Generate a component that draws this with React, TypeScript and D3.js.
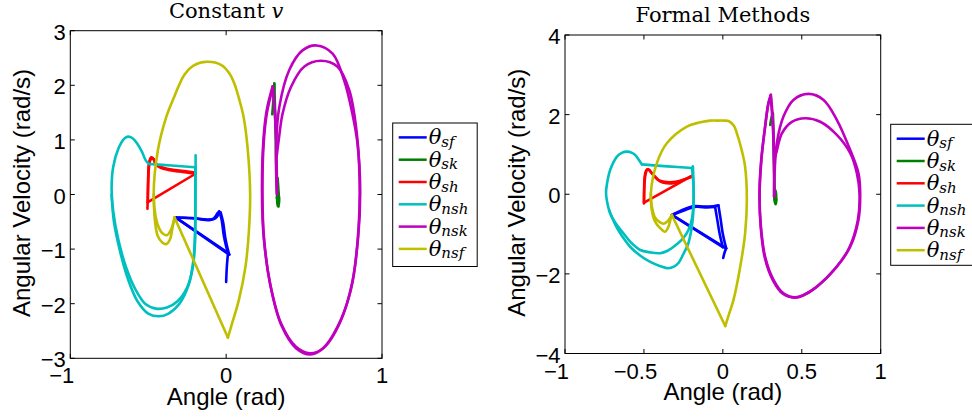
import React from "react"
import * as d3 from "d3"

type Pt = [number, number]
type Series = Pt[][] // each series is drawn as smooth pieces joined at sharp corners

const LEGEND_LABELS = ["sf", "sk", "sh", "nsh", "nsk", "nsf"]
const COLORS = ["#0000ff", "#008000", "#ff0000", "#00bfbf", "#bf00bf", "#bfbf00"]

// ── Constant v ────────────────────────────────────────────────────────────────

const constSf: Series = [
  [[0.0, -1.6], [0.005, -1.3], [0.012, -1.07]],
  [[0.012, -1.07], [-0.325, -0.42]],
  [[-0.325, -0.42], [-0.22, -0.43], [-0.12, -0.46], [-0.08, -0.44], [-0.055, -0.34], [-0.045, -0.31]],
  [[-0.045, -0.31], [-0.03, -0.45], [-0.015, -0.75], [0.0, -0.95], [0.012, -1.07]],
  [[0.02, -1.1], [-0.325, -0.42]],
  [[-0.325, -0.42], [-0.2, -0.44], [-0.11, -0.47], [-0.07, -0.44], [-0.045, -0.35], [-0.035, -0.33]],
  [[-0.035, -0.33], [-0.02, -0.5], [-0.005, -0.8], [0.01, -1.0], [0.02, -1.1]],
]

const constSk: Series = [
  [[0.296, 1.47], [0.305, 1.8], [0.309, 2.03]],
  [[0.309, 2.03], [0.316, 1.3], [0.322, 0.5], [0.326, 0.0], [0.33, -0.15], [0.333, -0.21]],
  [[0.333, -0.21], [0.338, -0.1], [0.335, 0.1], [0.33, 0.3]],
  [[0.325, -0.05], [0.335, -0.2], [0.34, -0.1], [0.333, 0.05], [0.328, -0.15], [0.336, -0.22]],
]

const constSh: Series = [
  [[-0.505, -0.26], [-0.503, 0.0], [-0.5, 0.35], [-0.495, 0.58], [-0.48, 0.68], [-0.465, 0.65],
    [-0.45, 0.55], [-0.42, 0.49], [-0.37, 0.45], [-0.3, 0.42], [-0.197, 0.38]],
  [[-0.197, 0.38], [-0.502, -0.14]],
  [[-0.502, -0.14], [-0.5, 0.2], [-0.495, 0.5], [-0.485, 0.64], [-0.47, 0.66], [-0.455, 0.58],
    [-0.43, 0.52], [-0.38, 0.47], [-0.3, 0.44], [-0.2, 0.4]],
]

const constNsh: Series = [
  [[-0.196, 0.72], [-0.196, 0.3], [-0.197, -0.3], [-0.2, -0.9], [-0.215, -1.35], [-0.25, -1.7],
    [-0.31, -1.95], [-0.38, -2.07], [-0.45, -2.09], [-0.52, -2.0], [-0.58, -1.75], [-0.64, -1.35],
    [-0.69, -0.85], [-0.725, -0.3], [-0.735, 0.1], [-0.725, 0.5], [-0.69, 0.85], [-0.655, 1.02],
    [-0.63, 1.06], [-0.6, 1.03], [-0.57, 0.93], [-0.54, 0.78], [-0.515, 0.62], [-0.495, 0.56]],
  [[-0.495, 0.56], [-0.35, 0.53], [-0.198, 0.5]],
  [[-0.198, 0.5], [-0.198, 0.0], [-0.2, -0.7], [-0.21, -1.2], [-0.24, -1.65], [-0.3, -2.0],
    [-0.37, -2.18], [-0.43, -2.23], [-0.5, -2.18], [-0.57, -1.95], [-0.63, -1.55], [-0.68, -1.05],
    [-0.72, -0.5], [-0.735, 0.0]],
]

const constNsk: Series = [
  [[0.326, 0.02], [0.32, 0.87], [0.341, 1.6], [0.405, 2.28], [0.49, 2.64], [0.58, 2.73],
    [0.683, 2.58], [0.757, 2.09], [0.81, 1.48], [0.843, 0.93], [0.86, 0.08], [0.847, -0.78],
    [0.8, -1.75], [0.715, -2.42], [0.62, -2.82], [0.538, -2.91], [0.448, -2.79], [0.352, -2.36],
    [0.282, -1.63], [0.241, -0.78], [0.23, 0.02], [0.239, 0.99], [0.26, 1.54], [0.298, 1.98]],
  [[0.298, 1.98], [0.316, 1.42], [0.324, 0.69]],
  [[0.324, 0.69], [0.337, 0.99], [0.362, 1.48], [0.416, 1.97], [0.5, 2.34], [0.608, 2.45],
    [0.715, 2.34], [0.79, 1.91], [0.836, 1.18], [0.856, 0.3], [0.85, -0.6], [0.81, -1.6],
    [0.73, -2.35], [0.63, -2.8], [0.54, -2.93], [0.45, -2.82], [0.355, -2.4], [0.285, -1.68],
    [0.243, -0.8], [0.233, 0.0], [0.241, 0.95], [0.262, 1.5], [0.3, 1.96]],
  [[0.3, 1.96], [0.318, 1.2], [0.325, 0.4], [0.327, 0.0]],
]

const constNsf: Series = [
  [[-0.331, -0.42], [0.011, -2.62]],
  [[0.011, -2.62], [0.038, -2.36], [0.081, -1.94], [0.124, -1.32], [0.145, -0.71], [0.154, 0.0],
    [0.139, 0.81], [0.112, 1.42], [0.085, 1.73], [0.053, 2.03], [0.02, 2.22], [-0.03, 2.37],
    [-0.124, 2.43], [-0.21, 2.36], [-0.267, 2.2], [-0.342, 1.73], [-0.384, 1.42], [-0.438, 0.81],
    [-0.465, 0.0], [-0.452, -0.41], [-0.43, -0.62], [-0.405, -0.72], [-0.38, -0.745], [-0.355, -0.65],
    [-0.331, -0.42]],
  [[-0.465, 0.0], [-0.458, -0.45], [-0.44, -0.75], [-0.41, -0.88], [-0.385, -0.91], [-0.36, -0.82],
    [-0.345, -0.62], [-0.331, -0.42]],
]

// ── Formal Methods ────────────────────────────────────────────────────────────

const formalSf: Series = [
  [[0.002, -1.6], [0.012, -1.45], [0.021, -1.36]],
  [[0.021, -1.36], [-0.323, -0.52]],
  [[-0.323, -0.52], [-0.27, -0.42], [-0.19, -0.3], [-0.12, -0.31], [-0.06, -0.3], [-0.028, -0.28]],
  [[-0.028, -0.28], [-0.015, -0.6], [0.0, -1.0], [0.021, -1.36]],
  [[0.0, -1.33], [-0.323, -0.52]],
  [[-0.323, -0.52], [-0.26, -0.43], [-0.18, -0.32], [-0.1, -0.33], [-0.049, -0.32]],
  [[-0.049, -0.32], [-0.035, -0.65], [-0.02, -1.0], [0.0, -1.33]],
]

const formalSk: Series = [
  [[0.3, 1.74], [0.31, 1.95], [0.317, 2.03]],
  [[0.317, 2.03], [0.322, 1.2], [0.326, 0.4], [0.33, -0.1], [0.332, -0.23]],
  [[0.332, -0.23], [0.338, -0.1], [0.333, 0.1], [0.325, -0.05], [0.335, -0.25], [0.34, -0.12]],
]

const formalSh: Series = [
  [[-0.5, -0.23], [-0.499, 0.1], [-0.495, 0.45], [-0.485, 0.6], [-0.471, 0.63], [-0.455, 0.55],
    [-0.429, 0.44], [-0.4, 0.33], [-0.376, 0.29], [-0.313, 0.28], [-0.25, 0.36], [-0.196, 0.46]],
  [[-0.196, 0.46], [-0.499, -0.21]],
  [[-0.499, -0.21], [-0.497, 0.2], [-0.49, 0.5], [-0.478, 0.62], [-0.465, 0.6], [-0.44, 0.48],
    [-0.41, 0.36], [-0.37, 0.31], [-0.3, 0.31], [-0.24, 0.38], [-0.196, 0.44]],
]

const formalNsh: Series = [
  [[-0.19, 0.7], [-0.186, 0.3], [-0.186, -0.2], [-0.195, -0.6], [-0.218, -0.9], [-0.25, -1.1],
    [-0.29, -1.25], [-0.35, -1.42], [-0.397, -1.48], [-0.46, -1.46], [-0.524, -1.4], [-0.58, -1.22],
    [-0.63, -0.98], [-0.68, -0.72], [-0.714, -0.48], [-0.735, -0.15], [-0.74, 0.03], [-0.73, 0.35],
    [-0.714, 0.61], [-0.672, 0.94], [-0.64, 1.04], [-0.608, 1.07], [-0.575, 1.04], [-0.556, 0.99],
    [-0.535, 0.88], [-0.513, 0.75]],
  [[-0.513, 0.75], [-0.35, 0.7], [-0.196, 0.66]],
  [[-0.196, 0.66], [-0.186, 0.2], [-0.188, -0.5], [-0.2, -0.9], [-0.22, -1.25], [-0.25, -1.5],
    [-0.28, -1.72], [-0.31, -1.82], [-0.345, -1.86], [-0.4, -1.8], [-0.46, -1.7], [-0.52, -1.55],
    [-0.58, -1.35], [-0.63, -1.1], [-0.67, -0.85], [-0.7, -0.6], [-0.72, -0.4]],
]

const formalNsk: Series = [
  [[0.325, -0.06], [0.325, 0.19], [0.342, 1.28], [0.384, 1.95], [0.447, 2.37], [0.543, 2.52],
    [0.638, 2.37], [0.722, 1.87], [0.807, 1.11], [0.859, 0.53], [0.87, 0.03], [0.859, -0.65],
    [0.807, -1.32], [0.722, -1.82], [0.596, -2.32], [0.511, -2.53], [0.458, -2.59], [0.384, -2.49],
    [0.321, -2.15], [0.268, -1.57], [0.241, -0.81], [0.232, 0.03], [0.243, 0.86], [0.268, 1.7],
    [0.289, 2.29], [0.304, 2.5]],
  [[0.304, 2.5], [0.317, 1.87], [0.325, 0.86]],
  [[0.325, 0.86], [0.338, 1.03], [0.374, 1.53], [0.437, 1.82], [0.522, 1.91], [0.617, 1.82],
    [0.722, 1.49], [0.807, 1.03], [0.849, 0.53], [0.866, 0.0], [0.855, -0.65], [0.8, -1.35],
    [0.715, -1.85], [0.59, -2.34], [0.505, -2.55], [0.455, -2.6], [0.38, -2.5], [0.318, -2.17],
    [0.266, -1.6], [0.24, -0.83], [0.233, 0.0], [0.244, 0.85], [0.267, 1.68], [0.288, 2.27],
    [0.303, 2.47]],
  [[0.303, 2.47], [0.318, 1.6], [0.324, 0.6], [0.325, -0.06]],
]

const formalNsf: Series = [
  [[-0.323, -0.52], [0.015, -3.31]],
  [[0.015, -3.31], [0.04, -3.0], [0.067, -2.66], [0.11, -1.82], [0.141, -0.98], [0.152, -0.14],
    [0.141, 0.69], [0.12, 1.1], [0.089, 1.53], [0.07, 1.72], [0.036, 1.84], [0.004, 1.85],
    [-0.04, 1.85], [-0.08, 1.85], [-0.15, 1.8], [-0.228, 1.7], [-0.355, 1.28], [-0.418, 0.78],
    [-0.456, 0.03], [-0.45, -0.3], [-0.43, -0.58], [-0.4, -0.7], [-0.376, -0.74], [-0.35, -0.68],
    [-0.323, -0.52]],
  [[-0.456, 0.03], [-0.452, -0.35], [-0.43, -0.68], [-0.397, -0.85], [-0.366, -0.94], [-0.345, -0.82],
    [-0.333, -0.65], [-0.323, -0.52]],
]

const constantSeries = [constSf, constSk, constSh, constNsh, constNsk, constNsf]
const formalSeries = [formalSf, formalSk, formalSh, formalNsh, formalNsk, formalNsf]

const constXTicks = [-1, 0, 1]
const constYTicks = [-3, -2, -1, 0, 1, 2, 3]
const formalXTicks = [-1, -0.5, 0, 0.5, 1]
const formalYTicks = [-4, -2, 0, 2, 4]

const SANS = "'Liberation Sans', Arial, Helvetica, sans-serif"
const SERIF = "'DejaVu Serif', serif"
const TICK = 4.5

function fmt(v: number) {
  return (v < 0 ? "\u2212" : "") + Math.abs(v)
}

function Legend({ x, y, w, h }) {
  const rowY = (i: number) => y + 14.4 + i * 22.3
  return (
    <g>
      <rect x={x} y={y} width={w} height={h} fill="#fff" stroke="#000" strokeWidth={1} />
      {LEGEND_LABELS.map((lab, i) => (
        <g key={lab}>
          <line x1={x + 6} x2={x + 34} y1={rowY(i)} y2={rowY(i)} stroke={COLORS[i]} strokeWidth={2.5} />
          <text x={x + 36} y={rowY(i) + 7} fontFamily={SERIF} fontStyle="italic" fill="#000">
            <tspan fontSize={21}>θ</tspan>
            <tspan fontSize={15} dy={2.5}>{lab}</tspan>
          </text>
        </g>
      ))}
    </g>
  )
}

function Panel({ box, yDomain, xTicks, yTicks, title, series, legend }) {
  const x = d3.scaleLinear().domain([-1, 1]).range([box.x, box.x + box.w])
  const y = d3.scaleLinear().domain(yDomain).range([box.y + box.h, box.y])
  const line = d3
    .line<Pt>()
    .x(d => x(d[0]))
    .y(d => y(d[1]))
    .curve(d3.curveCatmullRom.alpha(0.5))
  const bottom = box.y + box.h
  const right = box.x + box.w

  return (
    <g>
      <rect x={box.x} y={box.y} width={box.w} height={box.h} fill="#fff" />

      {/* curves */}
      {series.map((pieces: Series, si: number) =>
        pieces.map((p, pi) => (
          <path
            key={si + "-" + pi}
            d={line(p) || ""}
            fill="none"
            stroke={COLORS[si]}
            strokeWidth={2.6}
            strokeLinejoin="round"
            strokeLinecap="round"
          />
        ))
      )}

      {/* box and inward ticks */}
      <rect x={box.x} y={box.y} width={box.w} height={box.h} fill="none" stroke="#000" strokeWidth={1} />
      {xTicks.map(t => (
        <g key={"x" + t}>
          <line x1={x(t)} x2={x(t)} y1={bottom} y2={bottom - TICK} stroke="#000" />
          <line x1={x(t)} x2={x(t)} y1={box.y} y2={box.y + TICK} stroke="#000" />
          <text
            x={x(t) - (t < 0 ? 8.5 : 0)}
            y={bottom + 25}
            fontSize={22}
            fontFamily={SANS}
            textAnchor="middle"
          >
            {fmt(t)}
          </text>
        </g>
      ))}
      {yTicks.map(t => (
        <g key={"y" + t}>
          <line x1={box.x} x2={box.x + TICK} y1={y(t)} y2={y(t)} stroke="#000" />
          <line x1={right} x2={right - TICK} y1={y(t)} y2={y(t)} stroke="#000" />
          <text x={box.x - 4.5} y={y(t) + 9} fontSize={22} fontFamily={SANS} textAnchor="end">
            {fmt(t)}
          </text>
        </g>
      ))}

      {/* labels */}
      <text x={box.x + box.w / 2} y={bottom + 46.5} fontSize={24} fontFamily={SANS} textAnchor="middle">
        Angle (rad)
      </text>
      <text
        transform={`translate(${box.x - 40.5}, ${box.y + box.h / 2 - 1.5}) rotate(-90)`}
        fontSize={24}
        fontFamily={SANS}
        textAnchor="middle"
      >
        Angular Velocity (rad/s)
      </text>
      <text x={box.x + box.w / 2} y={box.y - 13} fontSize={21} fontFamily={SERIF} textAnchor="middle">
        {title}
      </text>

      <Legend {...legend} />
    </g>
  )
}

export default function App() {
  return (
    <div style={{ position: "absolute", left: 0, top: 0, background: "#fff" }}>
      <svg width={972} height={417} style={{ display: "block" }}>
        <rect width={972} height={417} fill="#fff" />
        <Panel
          box={{ x: 70.3, y: 30.7, w: 311.7, h: 327.6 }}
          yDomain={[-3, 3]}
          xTicks={constXTicks}
          yTicks={constYTicks}
          title={
            <>
              Constant <tspan fontStyle="italic">v</tspan>
            </>
          }
          series={constantSeries}
          legend={{ x: 392.7, y: 123, w: 84.5, h: 143.5 }}
        />
        <Panel
          box={{ x: 565, y: 35, w: 315.7, h: 318.5 }}
          yDomain={[-4, 4]}
          xTicks={formalXTicks}
          yTicks={formalYTicks}
          title="Formal Methods"
          series={formalSeries}
          legend={{ x: 890.7, y: 124.3, w: 84.5, h: 141 }}
        />
      </svg>
    </div>
  )
}
